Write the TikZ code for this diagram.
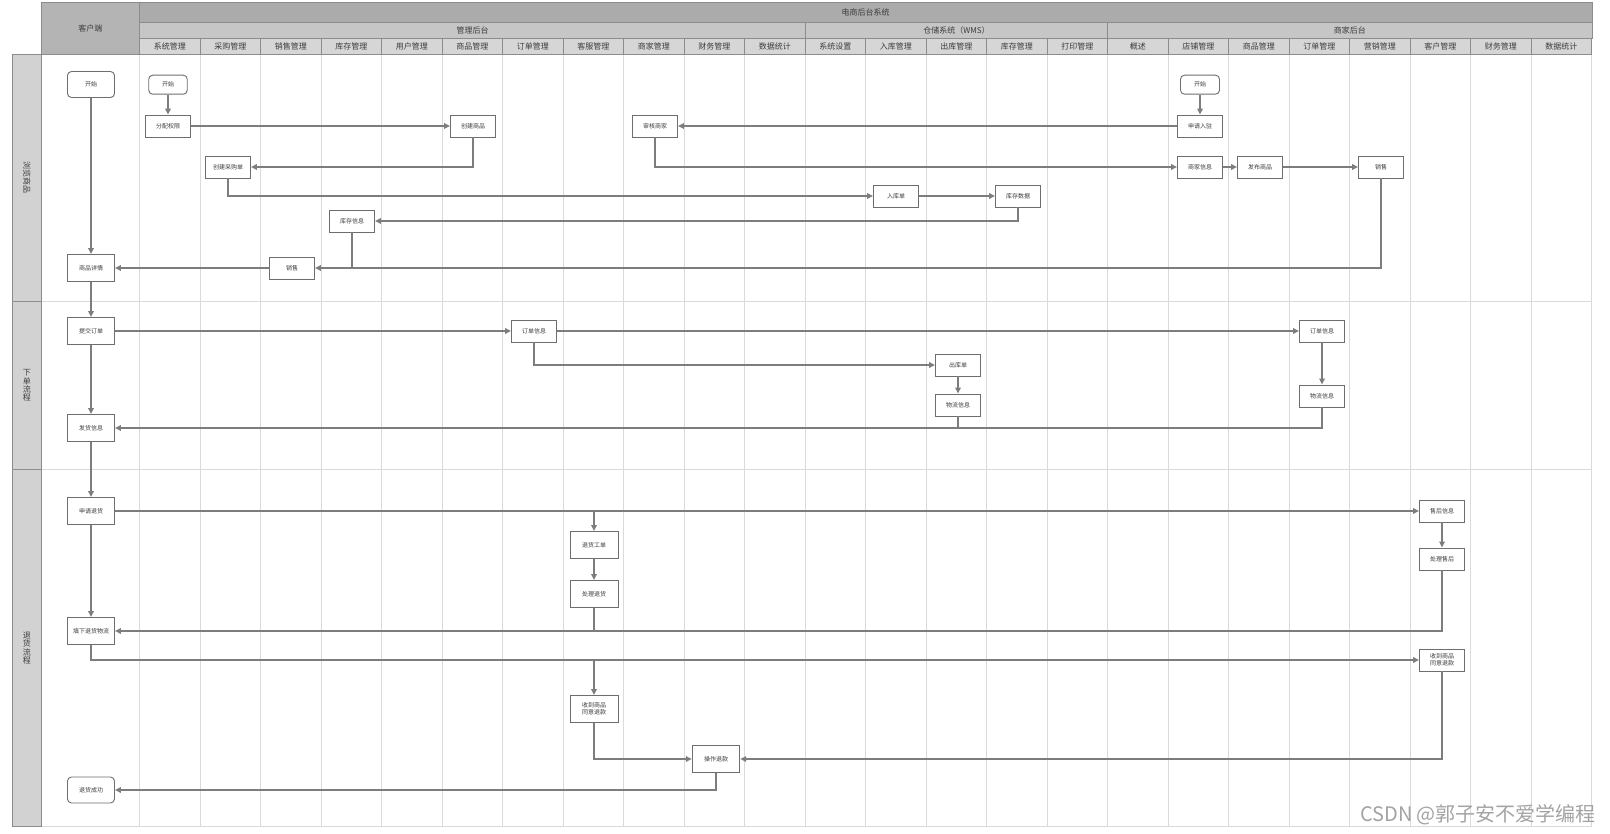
\documentclass[tikz,border=0pt]{standalone}
\usepackage{fontspec}
\setmainfont{Noto Sans CJK SC}
\usetikzlibrary{arrows.meta}
\definecolor{hdrA}{HTML}{ABABAB}
\definecolor{hdrB}{HTML}{C6C6C6}
\definecolor{hdrC}{HTML}{D6D6D6}
\definecolor{cli}{HTML}{B4B4B4}
\definecolor{lanefill}{HTML}{D2D2D2}
\definecolor{hline}{HTML}{8C8C8C}
\definecolor{gridc}{HTML}{DADADA}
\definecolor{arr}{HTML}{7D7D7D}
\definecolor{boxline}{HTML}{6E6E6E}
\definecolor{txt}{HTML}{3C3C3C}
\definecolor{wm}{HTML}{A3A3A3}
\begin{document}
\begin{tikzpicture}[x=1pt,y=-1pt,
  hdrcell/.style={draw=hline, line width=0.8pt},
  hdrtext/.style={font=\fontsize{8}{9}\selectfont, text=txt, inner sep=0pt},
  gridln/.style={draw=gridc, line width=0.8pt},
  lanecell/.style={draw=hline, fill=lanefill, line width=0.8pt},
  lanetext/.style={font=\fontsize{8}{8.4}\selectfont, text=txt, inner sep=0pt, align=center},
  box/.style={draw=boxline, fill=white, line width=0.9pt, minimum width=45pt, minimum height=22pt, inner sep=0pt, font=\fontsize{6}{6.6}\selectfont, text=txt, align=center},
  cbox/.style={box, minimum width=47pt, minimum height=27pt},
  bbox/.style={box, minimum width=48pt, minimum height=27pt},
  rbox/.style={box, rounded corners=4pt},
  conn/.style={draw=arr, line width=1.5pt, -{Triangle[length=6pt,width=5.5pt]}},
  link/.style={draw=arr, line width=1.5pt},
]
\useasboundingbox[fill=white] (0,0) rectangle (1610,834);

% body grid
\foreach \i in {0,...,24} \draw[gridln] ({139.5+60.5*\i},54) -- ({139.5+60.5*\i},826);
\draw[gridln] (41.3,301) -- (1592,301);
\draw[gridln] (41.3,469) -- (1592,469);
\draw[gridln] (41.3,826) -- (1592,826);

% lane labels
\draw[lanecell] (12.7,54) rectangle (41.3,301);
\draw[lanecell] (12.7,301) rectangle (41.3,469);
\draw[lanecell] (12.7,469) rectangle (41.3,826);
\node[lanetext, rotate=-90] (l1) at (27,177.5) {浏览商品};
\node[lanetext] (l2) at (27,385.5) {下\\单\\流\\程};
\node[lanetext] (l3) at (27,648) {退\\货\\流\\程};

% headers
\draw[hdrcell, fill=cli] (41.3,2) rectangle (139.5,54);
\node[hdrtext] (hcli) at (90.4,28.5) {客户端};
\draw[hdrcell, fill=hdrA] (139.5,2) rectangle (1592,22);
\node[hdrtext] (hall) at (865.7,12) {电商后台系统};
\draw[hdrcell, fill=hdrB] (139.5,22) rectangle (805.5,38);
\draw[hdrcell, fill=hdrB] (805.5,22) rectangle (1107.5,38);
\draw[hdrcell, fill=hdrB] (1107.5,22) rectangle (1592,38);
\node[hdrtext] (hg1) at (472.5,30) {管理后台};
\node[hdrtext] (hg2) at (956.5,30) {仓储系统（WMS）};
\node[hdrtext] (hg3) at (1349.8,30) {商家后台};
\foreach \n [count=\i from 0] in {系统管理,采购管理,销售管理,库存管理,用户管理,商品管理,订单管理,客服管理,商家管理,财务管理,数据统计,系统设置,入库管理,出库管理,库存管理,打印管理,概述,店铺管理,商品管理,订单管理,营销管理,客户管理,财务管理,数据统计}{
  \draw[hdrcell, fill=hdrC] ({139.5+60.5*\i},38) rectangle ({200+60.5*\i},54);
  \node[hdrtext] (hc\i) at ({169.75+60.5*\i},46.3) {\n};
}

% lane 1 nodes
\node[rbox, minimum width=47pt, minimum height=26pt] (start1) at (91,84.5) {开始};
\node[rbox, minimum width=38.5pt, minimum height=19pt] (start2) at (168,84.7) {开始};
\node[box] (fpqx) at (168,126) {分配权限};
\node[box] (cjsp) at (473,126) {创建商品};
\node[box] (cgd) at (228,167) {创建采购单};
\node[box] (kcxx) at (352,221) {库存信息};
\node[cbox] (spxq) at (91,268) {商品详情};
\node[box] (xs1) at (292,268) {销售};
\node[box] (shsj) at (655,126) {审核商家};
\node[box] (rkd) at (896,196) {入库单};
\node[box] (kcsj) at (1018,196) {库存数据};
\node[rbox, minimum width=39pt, minimum height=19pt] (startM) at (1200,84.7) {开始};
\node[box] (sqrz) at (1200,126) {申请入驻};
\node[box] (sjxx) at (1200,167) {商家信息};
\node[box] (fbsp) at (1260,167) {发布商品};
\node[box] (xsM) at (1381,167) {销售};

% lane 2 nodes
\node[cbox] (tjdd) at (91,331) {提交订单};
\node[cbox] (fhxx) at (91,428) {发货信息};
\node[box] (ddxxA) at (534,331) {订单信息};
\node[box] (ckd) at (958,365) {出库单};
\node[box] (wlxxW) at (958,405) {物流信息};
\node[box] (ddxxM) at (1322,331) {订单信息};
\node[box] (wlxxM) at (1322,396) {物流信息};

% lane 3 nodes
\node[cbox] (sqth) at (91,511) {申请退货};
\node[cbox] (txwl) at (91,631) {填下退货物流};
\node[rbox, minimum width=47pt, minimum height=26pt] (thcg) at (91,790) {退货成功};
\node[bbox] (thgd) at (594,545) {退货工单};
\node[bbox] (clth) at (594,594) {处理退货};
\node[bbox] (sdA) at (594,709) {收到商品\\同意退款};
\node[bbox, minimum width=47.5pt] (czth) at (716,759) {操作退款};
\node[box] (shxx) at (1442,511) {售后信息};
\node[box] (clsh) at (1442,559) {处理售后};
\node[box] (sdM) at (1442,660) {收到商品\\同意退款};

% connectors lane 1
\draw[conn] (start1) -- (spxq);
\draw[conn] (start2) -- (fpqx);
\draw[conn] (fpqx) -- (cjsp);
\draw[conn] (cjsp.south) |- (cgd.east);
\draw[conn] (cgd.south) |- (rkd.west);
\draw[conn] (rkd) -- (kcsj);
\draw[conn] (kcsj.south) |- (kcxx.east);
\draw[link] (kcxx.south) -- (kcxx.south |- xs1.east);
\draw[conn] (xsM.south) |- (xs1.east);
\draw[conn] (xs1) -- (spxq);
\draw[conn] (startM) -- (sqrz);
\draw[conn] (sqrz) -- (shsj);
\draw[conn] (shsj.south) |- (sjxx.west);
\draw[conn] (sjxx) -- (fbsp);
\draw[conn] (fbsp) -- (xsM);

% connectors lane 2
\draw[conn] (spxq) -- (tjdd);
\draw[conn] (tjdd) -- (ddxxA);
\draw[conn] (ddxxA) -- (ddxxM);
\draw[conn] (ddxxA.south) |- (ckd.west);
\draw[conn] (ckd) -- (wlxxW);
\draw[link] (wlxxW.south) -- (wlxxW.south |- fhxx.east);
\draw[conn] (ddxxM) -- (wlxxM);
\draw[conn] (wlxxM.south) |- (fhxx.east);
\draw[conn] (tjdd) -- (fhxx);

% connectors lane 3
\draw[conn] (fhxx) -- (sqth);
\draw[conn] (sqth) -- (txwl);
\draw[conn] (sqth) -- (shxx);
\coordinate (b1) at (thgd.north |- sqth.east);
\draw[conn] (b1) -- (thgd);
\draw[conn] (thgd) -- (clth);
\draw[link] (clth.south) -- (clth.south |- txwl.east);
\draw[conn] (shxx) -- (clsh);
\draw[conn] (clsh.south) |- (txwl.east);
\draw[conn] (txwl.south) |- (sdM.west);
\coordinate (b2) at (sdA.north |- sdM.west);
\draw[conn] (b2) -- (sdA);
\draw[conn] (sdA.south) |- (czth.west);
\draw[conn] (sdM.south) |- (czth.east);
\draw[conn] (czth.south) |- (thcg.east);

% watermark
\node[font=\fontsize{20}{24}\selectfont, text=wm, inner sep=0pt] (wmk) at (1478,815) {CSDN @郭子安不爱学编程};
\end{tikzpicture}
\end{document}
